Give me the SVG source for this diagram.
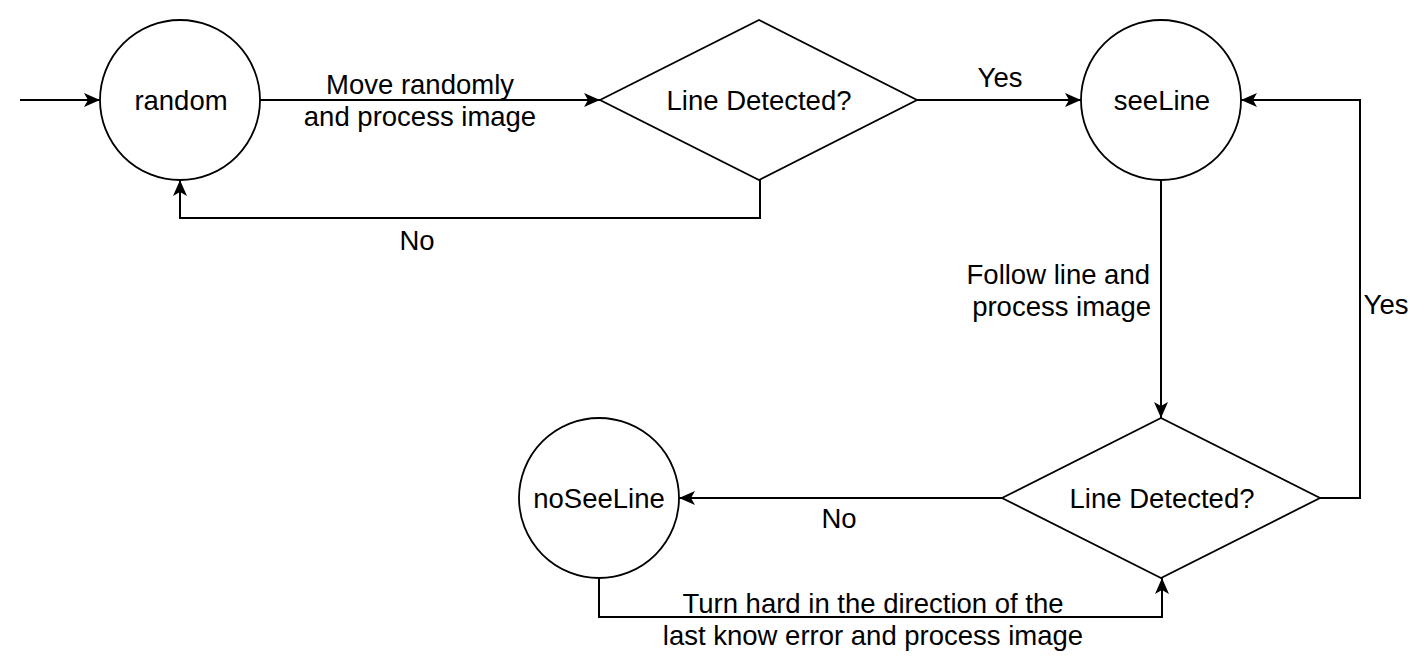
<svg xmlns="http://www.w3.org/2000/svg" width="1426" height="667" viewBox="0 0 1426 667">
<style>
.shape{fill:#ffffff;stroke:#000000;stroke-width:1.8}
.edge{fill:none;stroke:#000000;stroke-width:2}
text{font-family:"Liberation Sans",Arial,sans-serif;font-size:27.5px;fill:#000000}
.c{text-anchor:middle}
.e{text-anchor:end}
</style>
<defs>
<marker id="arr" markerUnits="userSpaceOnUse" markerWidth="18" markerHeight="14" refX="16" refY="7" orient="auto">
<path d="M0,0 L16,7 L0,14 L4,7 Z" fill="#000000"/>
</marker>
</defs>
<rect width="1426" height="667" fill="#ffffff"/>
<g id="connectors">
<path class="edge" d="M20,100 L100,100" marker-end="url(#arr)"/>
<path class="edge" d="M260,100 L600,100" marker-end="url(#arr)"/>
<path class="edge" d="M760,180 L760,218 L180,218 L180,180" marker-end="url(#arr)"/>
<path class="edge" d="M917,100 L1081,100" marker-end="url(#arr)"/>
<path class="edge" d="M1161,180 L1161,418" marker-end="url(#arr)"/>
<path class="edge" d="M1320,498 L1360,498 L1360,100 L1241,100" marker-end="url(#arr)"/>
<path class="edge" d="M1002,498 L679,498" marker-end="url(#arr)"/>
<path class="edge" d="M599,578 L599,617 L1162,617 L1162,578" marker-end="url(#arr)"/>
<text class="c" x="420" y="94">Move randomly</text>
<text class="c" x="420" y="126">and process image</text>
<text class="c" x="417" y="250">No</text>
<text class="c" x="1000" y="87">Yes</text>
<text class="e" x="1150" y="284">Follow line and</text>
<text class="e" x="1151" y="316">process image</text>
<text class="c" x="1386" y="314">Yes</text>
<text class="c" x="839" y="528">No</text>
<text class="c" x="873" y="613">Turn hard in the direction of the</text>
<text class="c" x="873" y="645">last know error and process image</text>
</g>
<g id="random">
<circle class="shape" cx="180" cy="100" r="80"/>
<text class="c" x="181" y="110">random</text>
</g>
<g id="decision1">
<polygon class="shape" points="600,100 759,20 917,100 759,180"/>
<text class="c" x="759" y="110">Line Detected?</text>
</g>
<g id="seeLine">
<circle class="shape" cx="1161" cy="100" r="80"/>
<text class="c" x="1162" y="110">seeLine</text>
</g>
<g id="decision2">
<polygon class="shape" points="1002,498 1161,418 1320,498 1161,578"/>
<text class="c" x="1162" y="508">Line Detected?</text>
</g>
<g id="noSeeLine">
<circle class="shape" cx="599" cy="498" r="80"/>
<text class="c" x="599" y="508">noSeeLine</text>
</g>
</svg>
